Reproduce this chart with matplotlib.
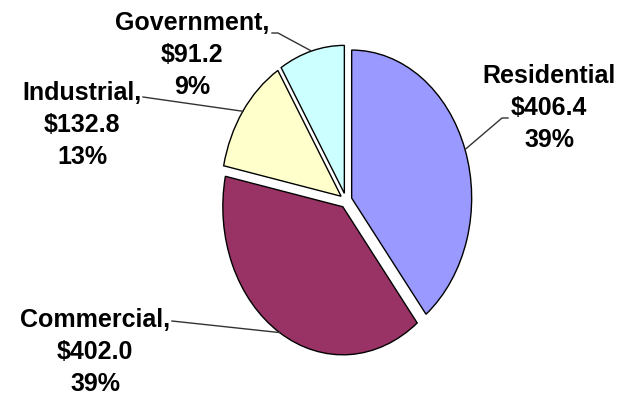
import numpy as np
import matplotlib.pyplot as plt

sectors = ['Residential', 'Commercial', 'Industrial', 'Government']
revenue = [406.4, 402.0, 132.8, 91.2]
percent = ['39%', '39%', '13%', '9%']
colors = ['#9999FF', '#993366', '#FFFFCC', '#CCFFFF']

# pixel geometry of the reference (pie is squashed horizontally)
cx, cy = 346, 201.5
sx, sy = 120.0, 148.0
W, H = 629, 402


def to_data(px, py):
    return (px - cx) / sx, (cy - py) / sy


fig = plt.figure(figsize=(6.29, 4.02), dpi=100)
ax = fig.add_axes([0, 0, 1, 1])

explode = [0.05] * len(revenue)
wedges, _ = ax.pie(revenue, colors=colors, startangle=90, counterclock=False,
                   explode=explode,
                   wedgeprops=dict(edgecolor='black', linewidth=1.0))
ax.set_aspect('auto')
ax.set_xlim(to_data(0, 0)[0], to_data(W, 0)[0])
ax.set_ylim(to_data(0, H)[1], to_data(0, 0)[1])
ax.axis('off')

# label block centres and leader start points (pixels)
label_pos = [(549, 108), (95, 352), (82, 125), (192, 55)]
leader_start = [[(508, 119), (502, 119)], [(172, 322)], [(143, 98)], [(272, 34), (278, 34)]]
commas = ['', ',', ',', ',']

font = dict(family='Liberation Sans', weight='bold', size=18)

for i, w in enumerate(wedges):
    name = sectors[i]
    txt = f"{name}{commas[i]}\n${revenue[i]:.1f}\n{percent[i]}"
    tx, ty = to_data(*label_pos[i])
    ax.text(tx, ty, txt, ha='center', va='center', multialignment='center',
            linespacing=1.4, **font)

    mid = np.deg2rad((w.theta1 + w.theta2) / 2)
    ox, oy = w.center
    ex, ey = ox + np.cos(mid), oy + np.sin(mid)
    pts = [to_data(*p) for p in leader_start[i]] + [(ex, ey)]
    ax.plot([p[0] for p in pts], [p[1] for p in pts], color='#333333', lw=1.0)

fig.savefig('out.png', dpi=100)
